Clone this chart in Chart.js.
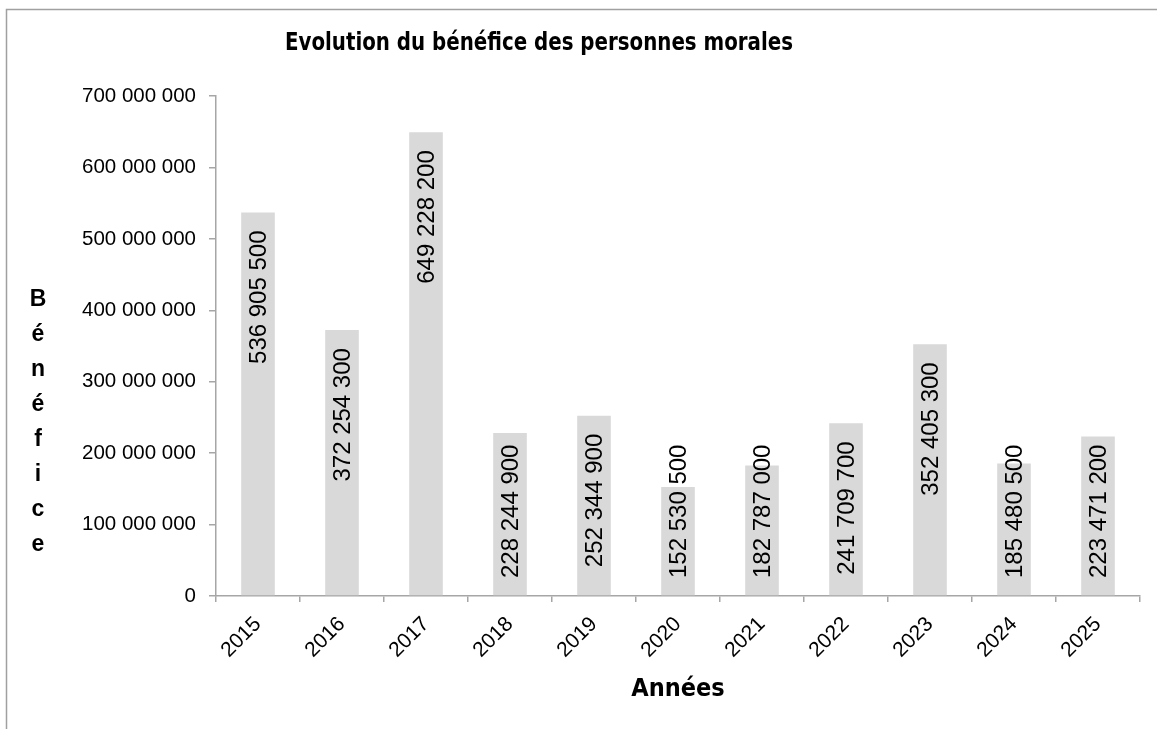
<!DOCTYPE html>
<html>
<head>
<meta charset="utf-8">
<script src="https://cdn.jsdelivr.net/npm/chart.js@4"></script>
<style>
  html, body { margin: 0; padding: 0; background: #fff; }
  canvas { display: block; }
</style>
</head>
<body>
<canvas id="chart" width="1157" height="729"></canvas>
<script>
const years = ['2015', '2016', '2017', '2018', '2019', '2020', '2021', '2022', '2023', '2024', '2025'];
const benefices = [536905500, 372254300, 649228200, 228244900, 252344900, 152530500, 182787000, 241709700, 352405300, 185480500, 223471200];
const yTickValues = [0, 100000000, 200000000, 300000000, 400000000, 500000000, 600000000, 700000000];
const chartTitle = 'Evolution du bénéfice des personnes morales';
const yTitle = 'Bénéfice';
const xTitle = 'Années';

const fmt = v => String(Math.round(v)).replace(/\B(?=(\d{3})+(?!\d))/g, ' ');

const AXIS = '#a6a6a6';
const SANS = '"Liberation Sans", Arial, sans-serif';
const BOLD = '"DejaVu Sans Condensed", "DejaVu Sans", sans-serif';

// border, labels in the bars, titles
const decor = {
  id: 'decor',
  beforeDraw(chart) {
    const ctx = chart.ctx;
    ctx.save();
    ctx.strokeStyle = '#a0a0a0';
    ctx.lineWidth = 1.5;
    ctx.beginPath();
    ctx.moveTo(6.5, 760);
    ctx.lineTo(6.5, 9.5);
    ctx.lineTo(1200, 9.5);
    ctx.stroke();
    ctx.restore();
  },
  afterDatasetsDraw(chart) {
    const ctx = chart.ctx;
    const base = chart.scales.y.getPixelForValue(0);
    ctx.save();
    ctx.fillStyle = '#000';
    ctx.font = '24px ' + SANS;
    ctx.textAlign = 'left';
    ctx.textBaseline = 'middle';
    chart.getDatasetMeta(0).data.forEach((bar, i) => {
      const txt = fmt(benefices[i]);
      const w = ctx.measureText(txt).width;
      let start = bar.y + 18 + w;
      if (start > base - 18) start = base - 18;
      ctx.save();
      ctx.translate(bar.x + 1, start);
      ctx.rotate(-Math.PI / 2);
      ctx.fillText(txt, 0, 0);
      ctx.restore();
    });
    ctx.restore();
  },
  afterDraw(chart) {
    const ctx = chart.ctx;
    const area = chart.chartArea;
    ctx.save();
    ctx.fillStyle = '#000';
    ctx.textAlign = 'center';
    ctx.textBaseline = 'alphabetic';

    // narrower than any installed bold face, so squeeze it a little
    ctx.font = 'bold 25px ' + BOLD;
    ctx.fillText(chartTitle, 539, 50, 508);

    ctx.font = 'bold 25px ' + BOLD;
    ctx.fillText(xTitle, (area.left + area.right) / 2, 696, 95);

    ctx.font = 'bold 23px ' + SANS;
    ctx.textBaseline = 'middle';
    yTitle.split('').forEach((ch, i) => {
      ctx.fillText(ch, 38, 300 + i * 35);
    });
    ctx.restore();
  }
};

new Chart(document.getElementById('chart'), {
  type: 'bar',
  data: {
    labels: years,
    datasets: [{
      data: benefices,
      backgroundColor: '#d9d9d9',
      borderWidth: 0,
      barPercentage: 0.4,
      categoryPercentage: 1
    }]
  },
  options: {
    responsive: false,
    animation: false,
    devicePixelRatio: 1,
    layout: { padding: { top: 96, right: 17, bottom: 0, left: 0 } },
    plugins: {
      legend: { display: false },
      title: { display: false },
      tooltip: { enabled: false }
    },
    scales: {
      x: {
        afterFit: s => { s.height = 133; },
        grid: { offset: true, drawOnChartArea: false, color: AXIS, tickLength: 6, lineWidth: 1.5 },
        border: { color: AXIS, width: 1.5 },
        ticks: { color: '#000', font: { family: SANS, size: 21 }, minRotation: 45, maxRotation: 45, padding: 10 }
      },
      y: {
        min: 0,
        max: 700000000,
        afterFit: s => { s.width = 216; },
        afterBuildTicks: s => { s.ticks = yTickValues.map(v => ({ value: v })); },
        grid: { drawOnChartArea: false, color: AXIS, tickLength: 7, lineWidth: 1.5 },
        border: { color: AXIS, width: 1.5 },
        ticks: { color: '#000', font: { family: SANS, size: 20.5 }, padding: 13, callback: v => fmt(v) }
      }
    }
  },
  plugins: [decor]
});
</script>
</body>
</html>
